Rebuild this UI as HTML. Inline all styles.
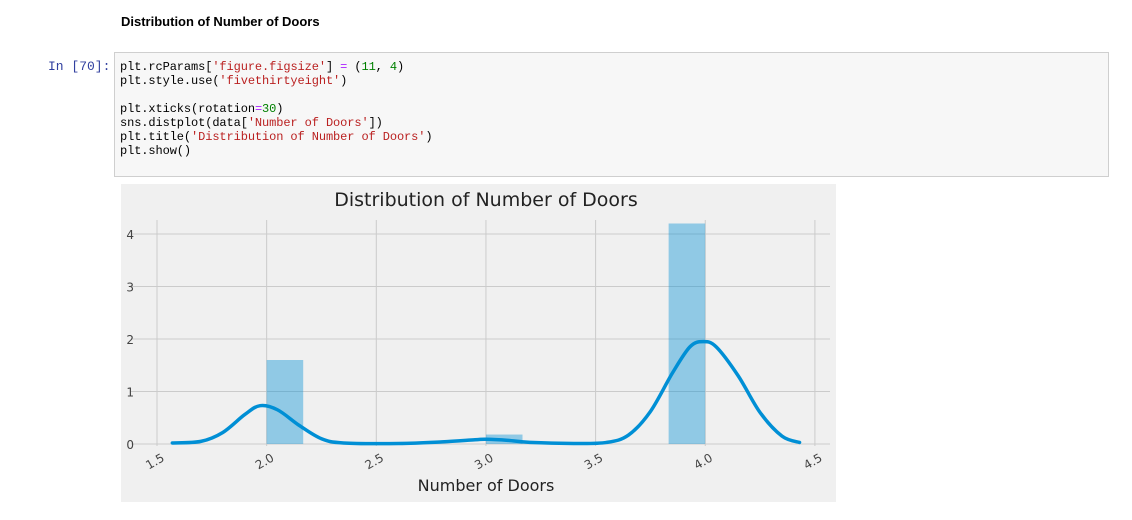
<!DOCTYPE html>
<html><head><meta charset="utf-8"><style>
body{margin:0;width:1132px;height:520px;background:#fff;position:relative;overflow:hidden;font-family:"Liberation Sans",sans-serif}
.hdr{position:absolute;left:121px;top:14px;font-weight:bold;font-size:13px;color:#000}
.prompt{position:absolute;left:48px;top:59px;font-family:"Liberation Mono",monospace;font-size:13px;color:#303f9f}
.code{position:absolute;left:114px;top:52px;width:995px;height:125px;background:#f7f7f7;border:1px solid #cfcfcf;box-sizing:border-box;padding:7px 5px;font-family:"Liberation Mono","DejaVu Sans Mono",monospace;font-size:12px;line-height:14px;color:#000;white-space:pre;letter-spacing:-0.1px}
.s{color:#ba2121}.n{color:#008000}.o{color:#aa22ff}
</style></head><body>
<div class="hdr">Distribution of Number of Doors</div>
<div class="prompt">In [70]:</div>
<div class="code">plt.rcParams[<span class="s">'figure.figsize'</span>] <span class="o">=</span> (<span class="n">11</span>, <span class="n">4</span>)
plt.style.use(<span class="s">'fivethirtyeight'</span>)

plt.xticks(rotation<span class="o">=</span><span class="n">30</span>)
sns.distplot(data[<span class="s">'Number of Doors'</span>])
plt.title(<span class="s">'Distribution of Number of Doors'</span>)
plt.show()</div>
<svg id="chart" style="position:absolute;left:0;top:0" width="1132" height="520"></svg>
<script>
const binStarts=[2.0,3.0,3.833];
const binHeights=[1.6,0.18,4.2];
const binWidth=1/6;
const kdeX=[1.57,1.7,1.8,1.9,1.97,2.05,2.15,2.25,2.35,2.6,2.8,2.95,3.0,3.1,3.2,3.4,3.55,3.65,3.75,3.85,3.93,3.99,4.05,4.15,4.25,4.35,4.43];
const kdeY=[0.02,0.05,0.22,0.56,0.73,0.65,0.35,0.1,0.02,0.01,0.04,0.08,0.09,0.07,0.03,0.01,0.03,0.17,0.62,1.35,1.85,1.95,1.85,1.3,0.6,0.15,0.03];
const xTicks=[1.5,2.0,2.5,3.0,3.5,4.0,4.5];
const yTicks=[0,1,2,3,4];
const NS="http://www.w3.org/2000/svg";
const svg=document.getElementById('chart');
const X=v=>157+(v-1.5)*219.3;
const Y=v=>444-v*52.5;
function mk(t,a,p){const e=document.createElementNS(NS,t);for(const k in a)e.setAttribute(k,a[k]);(p||svg).appendChild(e);return e;}
const bg=mk('rect',{x:121,y:184,width:715,height:318,fill:'#f0f0f0'});


xTicks.forEach(t=>{
 const g=mk('line',{x1:X(t),x2:X(t),y1:220,y2:446,stroke:'#cbcbcb','stroke-width':1});
 
 
 const tx=mk('text',{x:X(t),y:465,'font-size':12,fill:'#444','text-anchor':'middle','font-family':'DejaVu Sans, sans-serif',transform:`rotate(-30 ${X(t)} 465)`});
 tx.textContent=t.toFixed(1);
 
 
});
yTicks.forEach(t=>{
 const g=mk('line',{x1:131,x2:830,y1:Y(t),y2:Y(t),stroke:'#cbcbcb','stroke-width':1});
 
 
 const tx=mk('text',{x:134,y:Y(t)+5,'font-size':12,fill:'#444','text-anchor':'end','font-family':'DejaVu Sans, sans-serif'});
 tx.textContent=t;
 
 
});
binStarts.forEach((b,i)=>{
 const r=mk('rect',{x:X(b),y:Y(binHeights[i]),width:X(b+binWidth)-X(b),height:Y(0)-Y(binHeights[i]),fill:'#008fd5','fill-opacity':0.4});
 
 
});
let pts=kdeX.map((x,i)=>[X(x),Y(kdeY[i])]);
let d='M'+pts[0][0]+','+pts[0][1];
for(let i=0;i<pts.length-1;i++){
 const p0=pts[Math.max(i-1,0)],p1=pts[i],p2=pts[i+1],p3=pts[Math.min(i+2,pts.length-1)];
 const c1=[p1[0]+(p2[0]-p0[0])/6,p1[1]+(p2[1]-p0[1])/6],c2=[p2[0]-(p3[0]-p1[0])/6,p2[1]-(p3[1]-p1[1])/6];
 d+=` C${c1[0]},${c1[1]} ${c2[0]},${c2[1]} ${p2[0]},${p2[1]}`;
}
const kde=mk('path',{d:d,fill:'none',stroke:'#008fd5','stroke-width':3.5,'stroke-linecap':'round'});


const title=mk('text',{x:486,y:206,'font-size':19,fill:'#222','text-anchor':'middle','font-family':'DejaVu Sans, sans-serif'});
title.textContent='Distribution of Number of Doors';


const xl=mk('text',{x:486,y:491,'font-size':16,fill:'#222','text-anchor':'middle','font-family':'DejaVu Sans, sans-serif'});
xl.textContent='Number of Doors';


</script>
</body></html>
